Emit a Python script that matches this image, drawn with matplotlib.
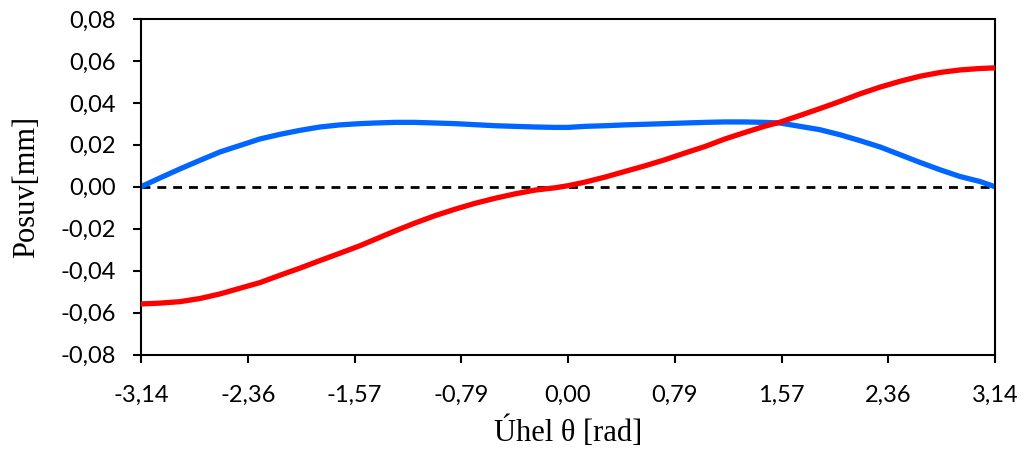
import numpy as np
import matplotlib.pyplot as plt

# angle [rad] and displacements [mm]
theta = [-3.142, -3.002, -2.855, -2.708, -2.560, -2.413, -2.266, -2.119, -1.972, -1.825,
         -1.678, -1.530, -1.420, -1.273, -1.126, -0.979, -0.831, -0.684, -0.537, -0.390,
         -0.243, -0.096, 0.000, 0.125, 0.272, 0.419, 0.567, 0.714, 0.861, 1.008,
         1.155, 1.302, 1.449, 1.560, 1.707, 1.854, 2.001, 2.148, 2.295, 2.443,
         2.590, 2.737, 2.884, 3.031, 3.142]
posuv_blue = [0.0000, 0.0042, 0.0085, 0.0126, 0.0166, 0.0197, 0.0228, 0.0250, 0.0269, 0.0285,
              0.0295, 0.0301, 0.0304, 0.0307, 0.0307, 0.0304, 0.0301, 0.0296, 0.0291, 0.0288,
              0.0285, 0.0283, 0.0283, 0.0288, 0.0291, 0.0295, 0.0298, 0.0301, 0.0304, 0.0307,
              0.0309, 0.0309, 0.0307, 0.0304, 0.0288, 0.0272, 0.0248, 0.0220, 0.0190, 0.0153,
              0.0116, 0.0081, 0.0049, 0.0025, 0.0000]
posuv_red = [-0.0559, -0.0555, -0.0548, -0.0533, -0.0511, -0.0484, -0.0457, -0.0422, -0.0388, -0.0352,
             -0.0317, -0.0281, -0.0251, -0.0211, -0.0173, -0.0138, -0.0107, -0.0079, -0.0055, -0.0034,
             -0.0016, -0.0005, 0.0005, 0.0022, 0.0046, 0.0073, 0.0100, 0.0129, 0.0161, 0.0192,
             0.0228, 0.0259, 0.0289, 0.0308, 0.0340, 0.0373, 0.0407, 0.0443, 0.0475, 0.0503,
             0.0527, 0.0545, 0.0557, 0.0564, 0.0567]

xtick_pos = [-np.pi, -3*np.pi/4, -np.pi/2, -np.pi/4, 0, np.pi/4, np.pi/2, 3*np.pi/4, np.pi]
xtick_labels = ["-3,14", "-2,36", "-1,57", "-0,79", "0,00", "0,79", "1,57", "2,36", "3,14"]
ytick_pos = [-0.08, -0.06, -0.04, -0.02, 0.0, 0.02, 0.04, 0.06, 0.08]
ytick_labels = ["-0,08", "-0,06", "-0,04", "-0,02", "0,00", "0,02", "0,04", "0,06", "0,08"]

fig = plt.figure(figsize=(10.24, 4.5), dpi=100)
ax = fig.add_axes([141/1024, 95.5/450, 854/1024, 335.5/450])

ax.axhline(0, color='black', lw=2, dashes=(3.2, 2.5), zorder=1)
ax.plot(theta, posuv_blue, color='#0066FF', lw=3.8, zorder=2)
ax.plot(theta, posuv_red, color='#FF0000', lw=3.8, zorder=3)

ax.set_xlim(-np.pi, np.pi)
ax.set_ylim(-0.08, 0.08)
ax.set_xticks(xtick_pos)
ax.set_xticklabels(xtick_labels, fontfamily='Lato', fontsize=17)
ax.set_yticks(ytick_pos)
ax.set_yticklabels(ytick_labels, fontfamily='Lato', fontsize=17)
ax.tick_params(axis='both', direction='out', length=6, width=1.5, color='black')
ax.tick_params(axis='x', pad=16)
ax.tick_params(axis='y', pad=12)
for s in ax.spines.values():
    s.set_linewidth(1.5)

ax.set_xlabel("Úhel θ [rad]", fontfamily='Liberation Serif', fontsize=22, va='center')
ax.xaxis.set_label_coords(0.5, (354.5 - 432) / 335.5)
ax.set_ylabel("Posuv[mm]", fontfamily='Liberation Serif', fontsize=22, va='center')
ax.yaxis.set_label_coords((27 - 141) / 854, 0.5)

fig.savefig("out.png", dpi=100)
